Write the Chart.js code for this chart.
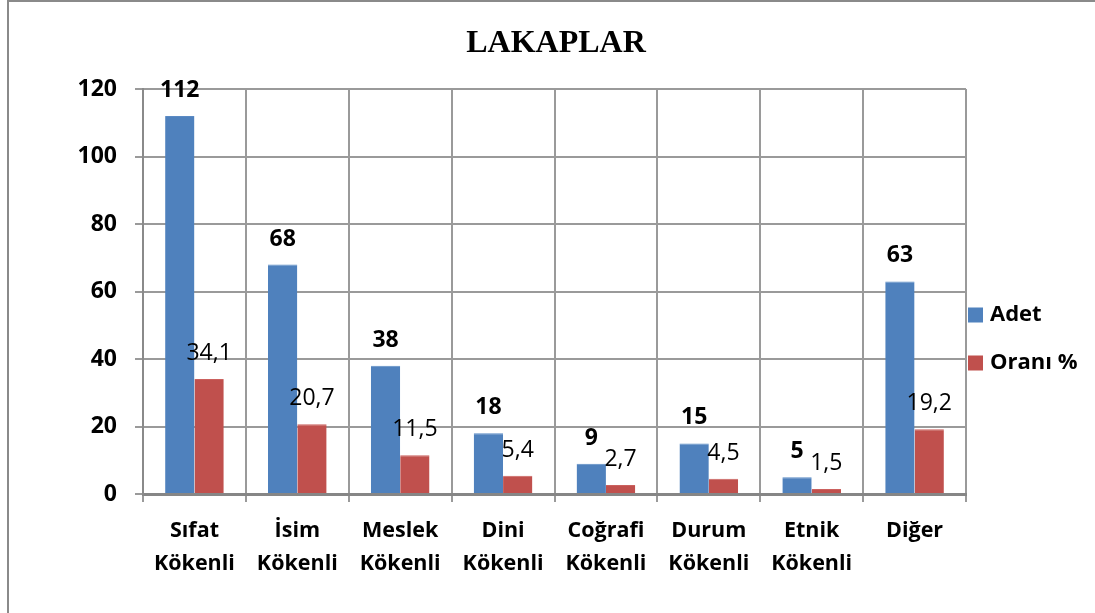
<!DOCTYPE html>
<html lang="tr">
<head>
<meta charset="UTF-8">
<title>LAKAPLAR</title>
<script src="https://cdn.jsdelivr.net/npm/chart.js"></script>
<style>
  * { margin:0; padding:0; box-sizing:border-box; }
  body { background:#fff; width:1095px; height:613px; overflow:hidden; position:relative; }
  .frame { position:absolute; left:7px; top:0; width:1100px; height:620px; border-left:2px solid #8a8a8a; border-top:2px solid #8a8a8a; }
  .wrap { position:absolute; left:0; top:0; width:1095px; height:613px; }
</style>
</head>
<body>
<div class="frame"></div>
<div class="wrap"><canvas id="chart" width="1095" height="613"></canvas></div>
<script>
// veriler
const categories = [
  ['Sıfat', 'Kökenli'], ['İsim', 'Kökenli'], ['Meslek', 'Kökenli'], ['Dini', 'Kökenli'],
  ['Coğrafi', 'Kökenli'], ['Durum', 'Kökenli'], ['Etnik', 'Kökenli'], ['Diğer']
];
const adet = [112, 68, 38, 18, 9, 15, 5, 63];
const oran = [34.1, 20.7, 11.5, 5.4, 2.7, 4.5, 1.5, 19.2];
const seriesNames = ['Adet', 'Oranı %'];
const yTicks = [0, 20, 40, 60, 80, 100, 120];
const chartTitle = 'LAKAPLAR';

const FONT = "'Open Sans', sans-serif";

// baslik (tum genislige gore ortali)
const titleDraw = {
  id: 'titleDraw',
  afterDraw(chart) {
    const ctx = chart.ctx;
    ctx.save();
    ctx.font = "bold 32px 'Liberation Serif', 'Times New Roman', serif";
    ctx.fillStyle = '#000';
    ctx.textAlign = 'center';
    ctx.textBaseline = 'alphabetic';
    ctx.fillText(chartTitle, 556, 52);
    ctx.restore();
  }
};

// bar ustu etiketler
const valueLabels = {
  id: 'valueLabels',
  afterDatasetsDraw(chart) {
    const ctx = chart.ctx;
    ctx.save();
    ctx.fillStyle = '#000';
    ctx.textAlign = 'center';
    ctx.textBaseline = 'alphabetic';
    chart.data.datasets.forEach((ds, i) => {
      const meta = chart.getDatasetMeta(i);
      ctx.font = (i === 0 ? 'bold ' : '') + '23px ' + FONT;
      meta.data.forEach((bar, j) => {
        const txt = String(ds.data[j]).replace('.', ',');
        ctx.fillText(txt, bar.x, bar.y - 19);
      });
    });
    ctx.restore();
  }
};

// sag taraftaki lejant
const sideLegend = {
  id: 'sideLegend',
  afterDraw(chart) {
    const ctx = chart.ctx;
    ctx.save();
    ctx.font = 'bold 22px ' + FONT;
    ctx.textBaseline = 'middle';
    chart.data.datasets.forEach((ds, i) => {
      const cy = 315 + i * 48;
      ctx.fillStyle = ds.backgroundColor;
      ctx.fillRect(968, cy - 7.5, 15, 15);
      ctx.fillStyle = '#000';
      ctx.fillText(ds.label, 990, cy);
    });
    ctx.restore();
  }
};

new Chart(document.getElementById('chart'), {
  type: 'bar',
  data: {
    labels: categories,
    datasets: [
      { label: seriesNames[0], data: adet, backgroundColor: '#4f81bd', borderColor: '#5a8ac4', borderWidth: { top: 1 } },
      { label: seriesNames[1], data: oran, backgroundColor: '#c0504d', borderColor: '#cb615e', borderWidth: { top: 1 } }
    ]
  },
  options: {
    responsive: false,
    animation: false,
    categoryPercentage: 0.57,
    barPercentage: 1,
    layout: { padding: { left: 0, right: 129, top: 89, bottom: 0 } },
    plugins: {
      legend: { display: false },
      tooltip: { enabled: false },
      title: { display: false }
    },
    scales: {
      x: {
        grid: { offset: true, color: '#9a9a9a', lineWidth: 2, tickLength: 8 },
        border: { color: '#868686', width: 3 },
        ticks: { color: '#000', padding: 13, font: { family: FONT, size: 21.5, weight: 'bold', lineHeight: 1.5 }, maxRotation: 0 },
        afterFit(scale) { scale.height = 119; }
      },
      y: {
        min: 0,
        max: 120,
        afterBuildTicks(scale) { scale.ticks = yTicks.map(v => ({ value: v })); },
        grid: { color: '#9a9a9a', lineWidth: 2, tickLength: 8 },
        border: { color: '#8a8a8a', width: 2 },
        ticks: { color: '#000', padding: 18, font: { family: FONT, size: 23, weight: 'bold' } },
        afterFit(scale) { scale.width = 143; }
      }
    }
  },
  plugins: [valueLabels, sideLegend, titleDraw]
});
</script>
</body>
</html>
